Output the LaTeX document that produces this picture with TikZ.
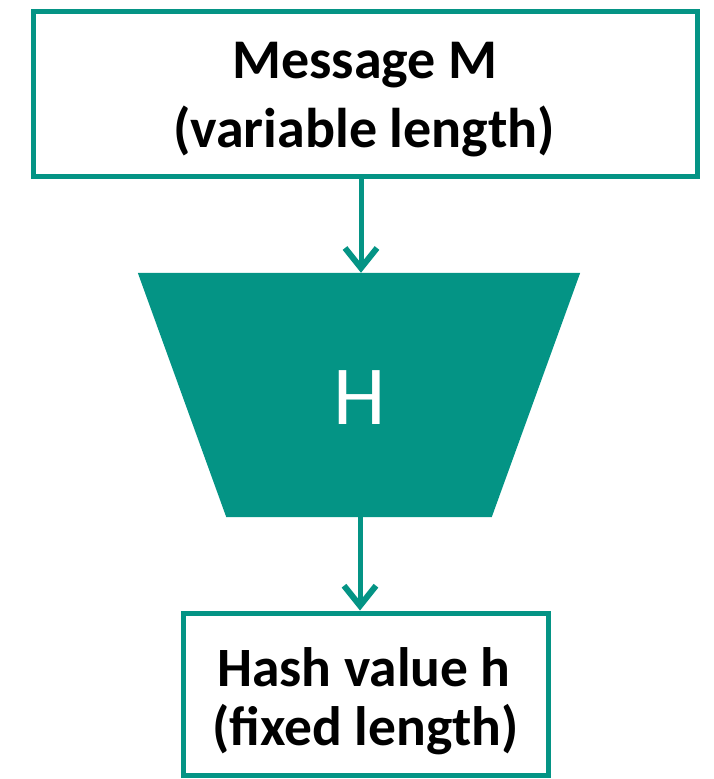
\documentclass[tikz,border=0pt]{standalone}
\usepackage{fontspec}
\setmainfont{Carlito}
\usetikzlibrary{arrows.meta}
\definecolor{hashteal}{RGB}{4,148,133}

\tikzset{
  textbox/.style={draw=hashteal, line width=5pt, fill=white, inner sep=0pt},
  boxtext/.style={anchor=base, inner sep=0pt, font=\bfseries\fontsize{#1}{#1}\selectfont},
  flow/.style={draw=hashteal, line width=5pt,
    -{Straight Barb[length=20pt,width=32pt,line width=6pt]}},
}

\begin{document}
\begin{tikzpicture}[x=1pt,y=-1pt]
\useasboundingbox (0,0) rectangle (713,779);

% input message
\node[textbox, minimum width=664pt, minimum height=165pt] (msg) at (365,93.5) {};
\node[boxtext=56] (msg1) at (365,78) {Message M};
\node[boxtext=56] (msg2) at (364,147) {(variable length)};

% hash function block (inverted trapezium)
\node[minimum width=442pt, minimum height=244pt, inner sep=0pt] (hfun) at (359,395) {};
\fill[hashteal] (hfun.north west) -- (hfun.north east)
  -- ([xshift=-88.5pt]hfun.south east) -- ([xshift=88.5pt]hfun.south west) -- cycle;
\node[text=white, inner sep=0pt, font=\fontsize{84}{84}\selectfont] (hlabel) at (360,398) {H};

% output digest
\node[textbox, minimum width=365pt, minimum height=162pt] (hash) at (365.5,694) {};
\node[boxtext=55.5] (hash1) at (364,686) {Hash value h};
\node[boxtext=55.5] (hash2) at (365.5,745) {(fixed length)};

% connectors
\draw[flow] ([xshift=2pt]hfun.north |- msg.south) -- ([xshift=2pt]hfun.north);
\draw[flow] ([xshift=1pt]hfun.south) -- ([xshift=1pt]hfun.south |- hash.north);
\end{tikzpicture}
\end{document}
